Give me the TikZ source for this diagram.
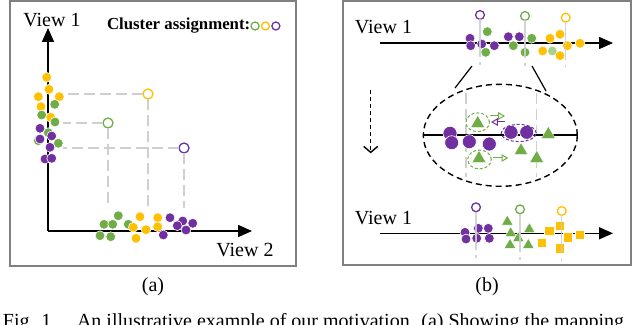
\documentclass[tikz,border=0pt]{standalone}
\usepackage{fontspec}
\setmainfont{Liberation Serif}
\usetikzlibrary{arrows.meta,shapes.geometric,positioning}
\definecolor{cgreen}{HTML}{70AD47}
\definecolor{corange}{HTML}{FFC000}
\definecolor{cpurple}{HTML}{7030A0}
\definecolor{clight}{HTML}{A9D18E}
\definecolor{cframe}{HTML}{808080}
\definecolor{cguide}{HTML}{CFCFCF}

\begin{document}
\begin{tikzpicture}[x=0.5pt,y=-0.5pt,
  every node/.style={inner sep=0pt, outer sep=0pt},
  lbl/.style={font=\fontsize{10}{12}\selectfont},
  panel/.style={draw=cframe, line width=0.6pt},
  axisline/.style={line width=0.8pt, -{Triangle[length=7pt,width=6pt]}},
  dot/.style={circle, fill=#1, draw=white, line width=0.3pt, minimum size=4.9pt},
  bigdot/.style={circle, fill=cpurple, draw=white, line width=0.3pt, minimum size=7pt},
  tri/.style={regular polygon, regular polygon sides=3, fill=cgreen, draw=white, line width=0.2pt, minimum size=#1},
  sq/.style={rectangle, fill=corange, draw=white, line width=0.4pt, minimum size=4.8pt},
  centre/.style={circle, draw=#1, fill=white, line width=0.65pt, minimum size=4.4pt},
  guide/.style={draw=cguide, line width=0.6pt},
  gdash/.style={guide, dash pattern=on 5.5pt off 2.5pt},
  gtail/.style={guide, opacity=0.9, dash pattern=on 19pt off 2.5pt on 1.5pt off 10pt},
  ring/.style={ellipse, draw=#1, line width=0.5pt, dash pattern=on 1.5pt off 1pt},
  hop/.style={draw=#1, line width=0.5pt, -{Triangle[open,length=3.4pt,width=3.8pt]}}
]
\useasboundingbox (0,0) rectangle (640,325);

\draw[panel] (10,1) rectangle (296,266);
\draw[panel] (343,1) rectangle (631,265);

\coordinate (oL) at (48,231);
\coordinate (yTip) at (48,28);
\coordinate (xTip) at (252,231);
\coordinate (hL) at (63,0);
\coordinate (vB) at (0,208);

\node[centre=corange, minimum size=5pt] (cO) at (148,94) {};
\node[centre=cgreen, minimum size=5pt] (cG) at (108,123) {};
\node[centre=cpurple, minimum size=5pt] (cP) at (184,148) {};
\draw[gdash] (cO) -- (cO -| hL);
\draw[gdash] (cG) -- (cG -| hL);
\draw[gdash] (cP) -- (cP -| hL);
\draw[gdash] (cO) -- (cO |- vB);
\draw[gdash] (cG) -- (cG |- vB);
\draw[gdash] (cP) -- (cP |- vB);

\draw[axisline] (oL) -- (yTip);
\draw[axisline] (oL) -- (xTip);

\foreach \px/\py/\c [count=\i] in {46.7/77.3/corange, 49/89.3/corange, 38.3/96.7/corange, 59.3/96.7/corange,
  41/106.7/corange, 54.7/104.3/cgreen, 41.7/115/cgreen, 50.7/117.3/corange, 55/122/cgreen, 40/128.3/cpurple,
  48.3/132.7/cgreen, 51.7/136/cpurple, 38.3/140.7/cgreen, 40/139/cpurple, 58.3/143.3/cgreen, 50/147.3/cpurple,
  45/159/cpurple, 51.7/158.3/cpurple}
  \node[dot=\c] (l\i) at (\px,\py) {};

\foreach \px/\py/\c [count=\i] in {118.3/215.7/cgreen, 104/224.3/cgreen, 112.7/224.3/cgreen, 128.3/224.3/cgreen,
  100/235.7/cgreen, 110.7/236.7/cgreen, 140/216.7/corange, 157.7/217.7/corange, 133.3/227.3/corange,
  146/229.7/corange, 157.7/226.7/corange, 136/238.3/corange, 170/217.7/cpurple, 182.7/221/cpurple,
  177.3/225.7/cpurple, 192.7/223.3/cpurple, 186/230/cpurple, 163.3/235/cpurple}
  \node[dot=\c] (b\i) at (\px,\py) {};

\node[lbl] (vA) at (52,20) {View 1};
\node[lbl] (vB2) at (245,250) {View 2};
\node[font=\bfseries\fontsize{8.4}{10}\selectfont, anchor=west] (leg) at (107,26) {Cluster assignment:};
\node[centre=cgreen, minimum size=4pt, right=0.4pt of leg] (legG) {};
\node[centre=corange, minimum size=4pt, right=1.2pt of legG] (legO) {};
\node[centre=cpurple, minimum size=4pt, right=1.2pt of legO] (legP) {};
\node[lbl] (capA) at (153,287) {(a)};

\coordinate (tS) at (380,43);
\coordinate (tT) at (613,43);
\coordinate (tB) at (0,67);
\draw[axisline] (tS) -- (tT);
\foreach \px/\py/\c [count=\i] in {470/38.3/cpurple, 470.7/45.7/cpurple, 481.7/44/cpurple, 487.3/31.7/cgreen,
  494.3/45.7/cpurple, 485.7/52.3/cgreen, 508.3/36.7/cpurple, 519.3/36.7/cpurple, 531.7/38.3/cgreen,
  513.3/45.7/cgreen, 525/52.3/cgreen, 550/38.3/corange, 560/34.3/corange, 542.7/51/corange,
  552.3/51/clight, 560/55.7/corange, 567.3/45.7/corange, 580/43.3/corange}
  \node[dot=\c] (t\i) at (\px,\py) {};
\node[centre=cpurple] (tP) at (480,15) {};
\node[centre=cgreen] (tG) at (525,16) {};
\node[centre=corange] (tO) at (565.7,17.7) {};
\draw[gtail] (tP) -- (tP |- tB);
\draw[gtail] (tG) -- (tG |- tB);
\draw[gtail] (tO) -- (tO |- tB);
\node[lbl] (vC) at (383.5,27) {View 1};

\coordinate (zL1) at (472,66);
\coordinate (zL2) at (455,88);
\coordinate (zR1) at (532,66);
\coordinate (zR2) at (546,91);
\draw[line width=0.6pt] (zL1) -- (zL2);
\draw[line width=0.6pt] (zR1) -- (zR2);

\node[ellipse, draw, line width=0.7pt, dash pattern=on 3pt off 2pt, minimum width=77pt, minimum height=51pt] (lens) at (500.3,135.3) {};
\coordinate (gT1) at (466,93);
\coordinate (gB1) at (466,177);
\coordinate (gT2) at (536.7,93);
\coordinate (gB2) at (536.7,177);
\draw[gdash] (gT1) -- (gB1);
\draw[gdash] (gT2) -- (gB2);
\draw[line width=0.8pt] (lens.west) -- (lens.east);

\foreach \px/\py [count=\i] in {450/133.3, 451.7/142.7, 469.3/141.7, 489.3/144, 511/132.3, 526.7/132.3}
  \node[bigdot] (e\i) at (\px,\py) {};
\node[ring=cpurple, minimum width=17.5pt, minimum height=8.6pt] (pRing) at (518.7,133) {};
\node[tri=8pt] (u1) at (477.7,123.3) {};
\node[tri=8pt] (u2) at (479,158.3) {};
\node[tri=8pt] (u3) at (548.3,134.3) {};
\node[tri=8pt] (u4) at (521,150.7) {};
\node[tri=8pt] (u5) at (536.7,158.3) {};
\node[ring=cgreen, minimum width=11.8pt, minimum height=9.4pt] (gRing1) at (477.7,122.3) {};
\node[ring=cgreen, minimum width=11.8pt, minimum height=9.4pt] (gRing2) at (479.5,159.5) {};

\coordinate (m1) at (490,116);
\coordinate (m2) at (505,116);
\coordinate (m3) at (505,122);
\coordinate (m4) at (491,122);
\coordinate (m5) at (493,158);
\coordinate (m6) at (508.3,158);
\draw[hop=cgreen] (m1) -- (m2);
\draw[hop=cpurple] (m3) -- (m4);
\draw[hop=cgreen] (m5) -- (m6);

\coordinate (dT) at (370.7,90);
\coordinate (dB) at (370.7,153.3);
\draw[line width=0.7pt, dash pattern=on 2pt off 1.5pt, -{Straight Barb[length=3pt,width=7pt]}] (dT) -- (dB);

\coordinate (bS) at (380,233.3);
\coordinate (bT) at (613,233.3);
\coordinate (bB) at (0,262);
\draw[axisline] (bS) -- (bT);
\foreach \px/\py [count=\i] in {465/232.3, 466/239, 478.3/228.3, 476.7/238.3, 488.3/228.3, 489.3/238.3}
  \node[dot=cpurple] (p\i) at (\px,\py) {};
\foreach \px/\py [count=\i] in {507.3/221.7, 510.7/233.3, 529.3/229.3, 518.3/238.3, 510/245, 528.3/245}
  \node[tri=6.6pt] (r\i) at (\px,\py) {};
\foreach \px/\py [count=\i] in {549.3/230.7, 560/226, 541.7/242.7, 567.7/237.3, 580/235, 560/248.3}
  \node[sq] (s\i) at (\px,\py) {};
\node[centre=cpurple] (bP) at (476,207.3) {};
\node[centre=cgreen] (bG) at (520,209.3) {};
\node[centre=corange] (bO) at (561.7,211) {};
\draw[gtail] (bP) -- (bP |- bB);
\draw[gtail] (bG) -- (bG |- bB);
\draw[gtail] (bO) -- (bO |- bB);
\node[lbl] (vD) at (383.5,218) {View 1};
\node[lbl] (capB) at (487,287) {(b)};

\node[lbl, anchor=base west] (fig) at (3,327) {Fig. 1.};
\node[lbl, anchor=base west] (cap) at (77,327) {An illustrative example of our motivation. (a) Showing the mapping};
\end{tikzpicture}
\end{document}
